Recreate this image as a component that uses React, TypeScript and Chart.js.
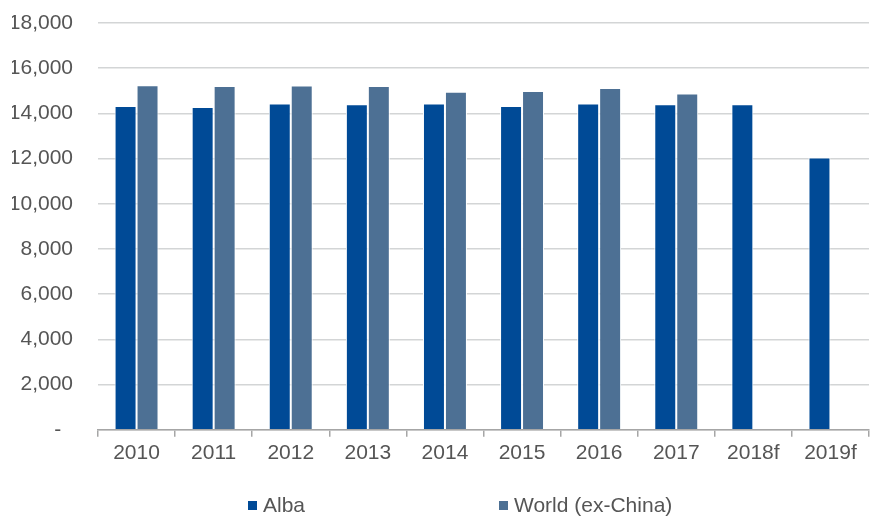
import React, { useEffect, useRef } from "react";
import { Chart, registerables } from "chart.js";

Chart.register(...registerables);

const categories = ["2010", "2011", "2012", "2013", "2014", "2015", "2016", "2017", "2018f", "2019f"];
const albaValues = [14330, 14280, 14440, 14410, 14440, 14330, 14440, 14400, 14400, 12050];
const worldValues: (number | null)[] = [15250, 15210, 15240, 15210, 14960, 14990, 15120, 14880, null, null];
const seriesNames = ["Alba", "World (ex-China)"];
const seriesColors = ["#004A96", "#4D7094"];
const yTicks = [0, 2000, 4000, 6000, 8000, 10000, 12000, 14000, 16000, 18000];

const FONT = "'Liberation Sans', Arial, sans-serif";
const TEXT = "#555555";

export default function App() {
  const ref = useRef<HTMLCanvasElement | null>(null);

  useEffect(() => {
    document.body.style.margin = "0";
    if (!ref.current) return;
    const chart = new Chart(ref.current, {
      type: "bar",
      data: {
        labels: categories,
        datasets: [
          {
            label: seriesNames[0],
            data: albaValues,
            backgroundColor: seriesColors[0],
            borderColor: "#FFFFFF",
            borderWidth: 1,
          },
          {
            label: seriesNames[1],
            data: worldValues,
            backgroundColor: seriesColors[1],
            borderColor: "#FFFFFF",
            borderWidth: 1,
          },
        ],
      },
      options: {
        responsive: false,
        animation: false,
        devicePixelRatio: 1,
        layout: { padding: { left: 12, right: 3, top: 23, bottom: 46 } },
        datasets: { bar: { categoryPercentage: 0.57, barPercentage: 1 } },
        plugins: {
          legend: { display: false },
          tooltip: { enabled: false },
        },
        scales: {
          x: {
            grid: {
              display: true,
              drawOnChartArea: false,
              offset: true,
              tickLength: 7,
              color: "#A6A6A6",
              lineWidth: 1.5,
            },
            border: { display: true, color: "#A6A6A6", width: 1.5 },
            ticks: { color: TEXT, font: { family: FONT, size: 21 }, padding: 4 },
          },
          y: {
            min: 0,
            max: 18000,
            afterBuildTicks: (scale: any) => {
              scale.ticks = yTicks.map((v) => ({ value: v }));
            },
            afterFit: (scale: any) => {
              scale.width = 86;
              scale.paddingTop = 0;
              scale.paddingBottom = 0;
            },
            grid: { color: "#D3D5D6", lineWidth: 1.5, drawTicks: false },
            border: { display: false },
            ticks: {
              color: TEXT,
              font: { family: FONT, size: 21 },
              padding: 25,
              callback: (v: any) => (Number(v) === 0 ? "-  " : Number(v).toLocaleString("en-US")),
            },
          },
        },
      },
    });
    return () => chart.destroy();
  }, []);

  const legendItem = (i: number, left: number) => (
    <div
      key={i}
      style={{
        position: "absolute",
        left,
        top: 492,
        display: "flex",
        alignItems: "center",
        fontFamily: FONT,
        fontSize: 21,
        color: TEXT,
        lineHeight: "26px",
        whiteSpace: "nowrap",
      }}
    >
      <span style={{ display: "inline-block", width: 9, height: 9, background: seriesColors[i], marginRight: 6 }} />
      {seriesNames[i]}
    </div>
  );

  return (
    <div style={{ position: "absolute", left: 0, top: 0, width: 872, height: 516, background: "#fff" }}>
      <canvas ref={ref} width={872} height={516} style={{ display: "block" }} />
      {legendItem(0, 248)}
      {legendItem(1, 499)}
    </div>
  );
}
